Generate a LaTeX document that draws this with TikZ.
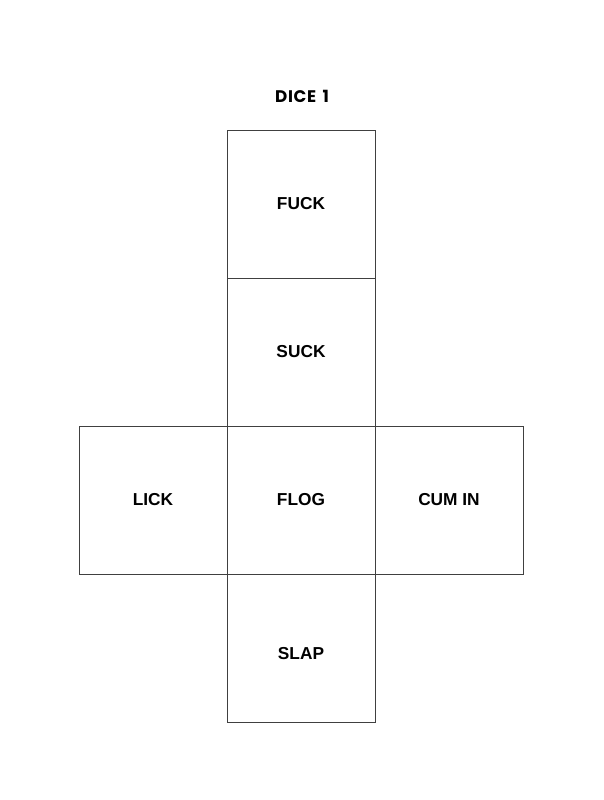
\documentclass[tikz,border=0pt]{standalone}
\usepackage{fontspec}
\setmainfont{Liberation Sans}
\newfontfamily\titlefont[LetterSpace=4,WordSpace=1.5]{Poppins}
\usetikzlibrary{positioning}

\begin{document}
\begin{tikzpicture}[x=1pt,y=-1pt,node distance=0pt,
  face node/.style={rectangle,draw=black!75,line width=0.8pt,minimum size=148pt,
    inner sep=0pt,outer sep=0pt,font=\fontsize{17.3}{19}\selectfont\bfseries}]
  \useasboundingbox[fill=white] (0,0) rectangle (604,800);
  \node[font=\titlefont\fontsize{16.8}{19}\selectfont\bfseries] (title) at (302,96) {DICE 1};
  \node[face node] (1) at (301,204) {FUCK};
  \node[face node] (2) [below=of 1] {SUCK};
  \node[face node] (3) [below=of 2] {FLOG};
  \node[face node] (4) [left=of 3] {LICK};
  \node[face node] (5) [right=of 3] {CUM IN};
  \node[face node] (6) [below=of 3] {\raisebox{-6pt}[\height][\depth]{SLAP}};
\end{tikzpicture}
\end{document}
